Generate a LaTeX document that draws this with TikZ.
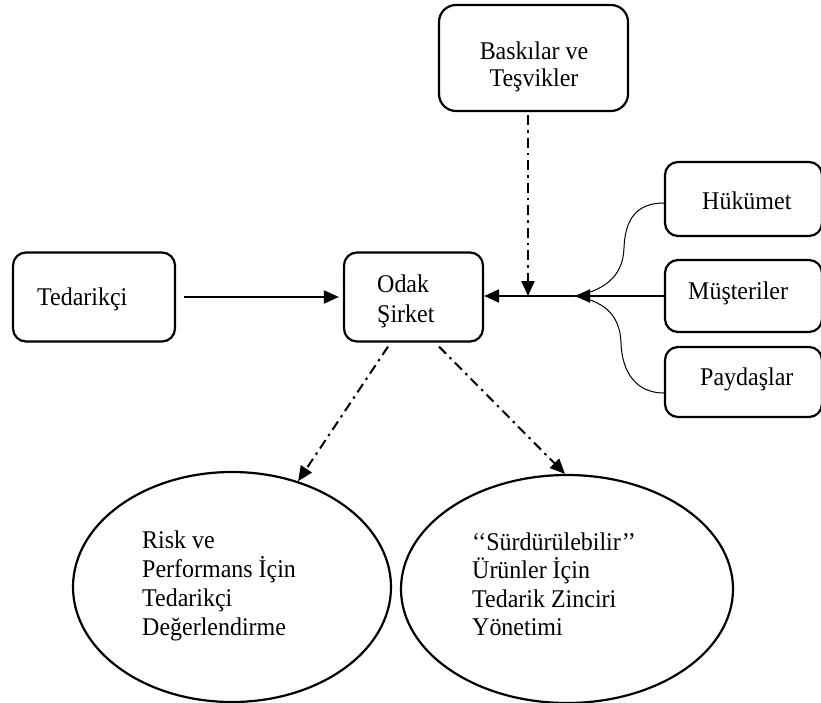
\documentclass[tikz,border=0pt]{standalone}
\usepackage{fontspec}
\setmainfont{Liberation Serif}
% slightly narrowed face so the labels come out a little taller than wide
\newfontfamily\labelfont[FakeStretch=0.94]{Liberation Serif}
\usetikzlibrary{arrows.meta,shapes.geometric,calc}
\begin{document}
\begin{tikzpicture}[x=1pt,y=-1pt,
  box/.style={draw=black,line width=2.2pt,rounded corners=13pt,inner sep=0pt},
  oval/.style={draw=black,line width=2.2pt,ellipse,inner sep=0pt},
  lbl/.style={anchor=base west,inner sep=0pt,align=left,
    font=\labelfont\fontsize{25.5}{29}\selectfont},
  flow/.style={line width=2pt,-{Triangle[length=15pt,width=13pt]}},
  dashflow/.style={flow,dash pattern=on 10pt off 5pt on 2.5pt off 5pt},
  branch/.style={line width=1pt}
]
\useasboundingbox (0,0) rectangle (821,703);
\fill[white] (0,0) rectangle (821,703);

% boxes
\node[box,minimum width=189pt,minimum height=106pt,rounded corners=17pt] (bask) at (533.5,58) {};
\node[box,minimum width=157pt,minimum height=74pt] (huk) at (743.5,199) {};
\node[box,minimum width=157pt,minimum height=72pt] (mus) at (743.5,296) {};
\node[box,minimum width=157pt,minimum height=70pt] (pay) at (743.5,382) {};
\node[box,minimum width=162pt,minimum height=89pt] (ted) at (94,297) {};
\node[box,minimum width=139pt,minimum height=89pt] (odak) at (413.5,297) {};
\node[oval,minimum width=318pt,minimum height=230pt] (lov) at (232,587) {};
\node[oval,minimum width=332pt,minimum height=228pt] (rov) at (567,589) {};

% labels (the base anchor of a multi-line label sits on its last line)
\node[lbl,anchor=base,align=center,font=\labelfont\fontsize{25.5}{27}\selectfont] (bask-t) at (534,87) {Baskılar ve\\Teşvikler};
\node[lbl] (huk-t) at (702,210) {Hükümet};
\node[lbl] (mus-t) at (688,299) {Müşteriler};
\node[lbl] (pay-t) at (700,385) {Paydaşlar};
\node[lbl] (ted-t) at (37,305) {Tedarikçi};
\node[lbl,font=\labelfont\fontsize{25.5}{30}\selectfont] (odak-t) at (377,322) {Odak\\Şirket};
\node[lbl] (lov-t) at (142,635) {Risk ve\\Performans İçin\\Tedarikçi\\Değerlendirme};
\node[lbl,font=\labelfont\fontsize{25.5}{28.5}\selectfont] (rov-t) at (472,635.5) {‘‘Sürdürülebilir’’\\Ürünler İçin\\Tedarik Zinciri\\Yönetimi};

% connectors
\coordinate (junc) at (575,296);
\coordinate (dropx) at ($(bask.south)+(-5.5,0)$);
\draw[flow,shorten <=8pt,shorten >=4pt] (ted) -- (odak);
\draw[flow] (mus.west) -- (junc);
\draw[flow] (junc) -- (junc -| odak.east);
\draw[dashflow] ($(bask.south)+(-5.5,3)$) -- (dropx |- junc);
\draw[branch] ($(huk.west)+(0,4)$) .. controls (636,203) and (625,220) .. (624,248)
  .. controls (623,278) and (602,291) .. (junc);
\draw[branch] ($(pay.west)+(0,11)$) .. controls (636,393) and (622,372) .. (621,343)
  .. controls (620,313) and (602,301) .. (junc);
\draw[dashflow] ($(odak.south)+(-25.5,4)$) -- (lov.58);
\draw[dashflow] ($(odak.south)+(25.5,4)$) -- (rov.91);
\end{tikzpicture}
\end{document}
